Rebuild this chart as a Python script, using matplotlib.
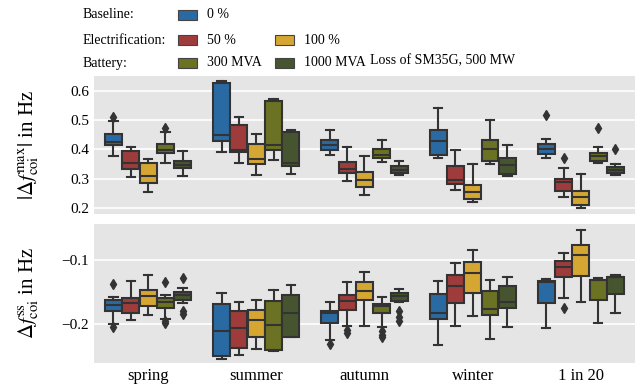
import matplotlib
matplotlib.use("Agg")
import matplotlib.pyplot as plt
from matplotlib.patches import Rectangle
import numpy as np

plt.rcParams['font.family'] = ['Liberation Serif', 'DejaVu Serif']
plt.rcParams['mathtext.fontset'] = 'stix'

seasons = ['spring', 'summer', 'autumn', 'winter', '1 in 20']
cases = ['0 %', '50 %', '100 %', '300 MVA', '1000 MVA']
colors = ['#2a6aa3', '#9e3c3b', '#d6a632', '#6b7223', '#46552f']

# box statistics per case: rows = seasons, cols = (whislo, q1, med, q3, whishi)
fmax = {
    '0 %':      [(0.378, 0.415, 0.427, 0.453, 0.497), (0.390, 0.429, 0.451, 0.626, 0.634),
                 (0.382, 0.399, 0.414, 0.432, 0.468), (0.372, 0.382, 0.430, 0.467, 0.542),
                 (0.372, 0.383, 0.402, 0.419, 0.436)],
    '50 %':     [(0.307, 0.332, 0.353, 0.393, 0.407), (0.352, 0.390, 0.399, 0.484, 0.510),
                 (0.293, 0.321, 0.334, 0.357, 0.410), (0.261, 0.281, 0.297, 0.345, 0.398),
                 (0.238, 0.257, 0.288, 0.300, 0.336)],
    '100 %':    [(0.254, 0.286, 0.309, 0.354, 0.366), (0.313, 0.351, 0.366, 0.420, 0.454),
                 (0.243, 0.273, 0.296, 0.322, 0.377), (0.220, 0.232, 0.256, 0.280, 0.351),
                 (0.198, 0.209, 0.238, 0.257, 0.317)],
    '300 MVA':  [(0.355, 0.388, 0.397, 0.420, 0.458), (0.365, 0.399, 0.415, 0.565, 0.571),
                 (0.357, 0.372, 0.382, 0.402, 0.431), (0.349, 0.361, 0.402, 0.433, 0.499),
                 (0.353, 0.360, 0.376, 0.389, 0.407)],
    '1000 MVA': [(0.310, 0.337, 0.347, 0.359, 0.393), (0.317, 0.345, 0.352, 0.459, 0.465),
                 (0.311, 0.320, 0.330, 0.344, 0.362), (0.310, 0.315, 0.347, 0.371, 0.414),
                 (0.311, 0.318, 0.330, 0.340, 0.351)],
}
fmax_fliers = {
    '0 %':      [[0.51], [], [], [], [0.518]],
    '50 %':     [[], [], [], [], [0.369]],
    '100 %':    [[], [], [], [], []],
    '300 MVA':  [[0.472], [], [], [], [0.474]],
    '1000 MVA': [[], [], [], [], [0.402]],
}

fss = {
    '0 %':      [(-0.200, -0.179, -0.170, -0.163, -0.158), (-0.254, -0.249, -0.211, -0.169, -0.152),
                 (-0.224, -0.198, -0.183, -0.180, -0.166), (-0.232, -0.192, -0.182, -0.153, -0.133),
                 (-0.205, -0.167, -0.134, -0.133, -0.130)],
    '50 %':     [(-0.194, -0.183, -0.167, -0.159, -0.133), (-0.248, -0.237, -0.206, -0.180, -0.165),
                 (-0.203, -0.177, -0.164, -0.155, -0.135), (-0.202, -0.167, -0.140, -0.124, -0.105),
                 (-0.159, -0.127, -0.111, -0.101, -0.089)],
    '100 %':    [(-0.185, -0.171, -0.156, -0.146, -0.124), (-0.238, -0.219, -0.193, -0.177, -0.162),
                 (-0.202, -0.163, -0.149, -0.134, -0.119), (-0.187, -0.151, -0.121, -0.103, -0.085),
                 (-0.165, -0.125, -0.092, -0.077, -0.053)],
    '300 MVA':  [(-0.192, -0.174, -0.166, -0.159, -0.154), (-0.242, -0.240, -0.201, -0.164, -0.147),
                 (-0.204, -0.183, -0.171, -0.168, -0.158), (-0.222, -0.185, -0.176, -0.149, -0.131),
                 (-0.198, -0.163, -0.131, -0.131, -0.128)],
    '1000 MVA': [(-0.167, -0.162, -0.154, -0.150, -0.144), (-0.220, -0.219, -0.182, -0.154, -0.139),
                 (-0.166, -0.164, -0.156, -0.152, -0.145), (-0.204, -0.174, -0.165, -0.140, -0.126),
                 (-0.183, -0.153, -0.126, -0.126, -0.124)],
}
fss_fliers = {
    '0 %':      [[-0.137, -0.204], [], [-0.230], [], []],
    '50 %':     [[], [], [-0.209, -0.214], [], [-0.174]],
    '100 %':    [[], [], [], [], []],
    '300 MVA':  [[-0.135, -0.195, -0.198], [], [-0.210, -0.216, -0.219], [], []],
    '1000 MVA': [[-0.128, -0.180, -0.184], [], [-0.180, -0.188, -0.195], [], []],
}


def draw_boxes(ax, stats, fliers):
    width = 0.8 / len(cases)
    for j, case in enumerate(cases):
        offset = -0.4 + width * (j + 0.5)
        recs = []
        for i in range(len(seasons)):
            lo, q1, med, q3, hi = stats[case][i]
            recs.append(dict(whislo=lo, q1=q1, med=med, q3=q3, whishi=hi,
                             fliers=fliers[case][i]))
        pos = np.arange(len(seasons)) + offset
        ax.bxp(recs, positions=pos, widths=width * 0.98, patch_artist=True,
               showfliers=True,
               boxprops=dict(facecolor=colors[j], edgecolor='#333333', linewidth=1.5),
               medianprops=dict(color='#333333', linewidth=1.5),
               whiskerprops=dict(color='#333333', linewidth=1.5),
               capprops=dict(color='#333333', linewidth=1.5),
               flierprops=dict(marker='d', markerfacecolor='#333333',
                               markeredgecolor='#333333', markersize=5.5))


fig = plt.figure(figsize=(6.41, 3.92), dpi=100)
ax1 = fig.add_axes([0.1466, 0.454, 0.844, 0.352])
ax2 = fig.add_axes([0.1466, 0.074, 0.844, 0.355])

draw_boxes(ax1, fmax, fmax_fliers)
draw_boxes(ax2, fss, fss_fliers)

for ax in (ax1, ax2):
    ax.set_facecolor('#e5e5e5')
    ax.set_axisbelow(True)
    ax.grid(axis='y', color='white', linewidth=1.2)
    for s in ax.spines.values():
        s.set_visible(False)
    ax.tick_params(length=0, labelsize=11)
    ax.tick_params(axis='x', labelsize=12)
    ax.set_xlim(-0.5, len(seasons) - 0.5)
    ax.set_xticks(np.arange(len(seasons)))

ax1.set_xticklabels([])
ax2.set_xticklabels(seasons)
ax1.set_ylim(0.179, 0.651)
ax1.set_yticks([0.2, 0.3, 0.4, 0.5, 0.6])
ax2.set_ylim(-0.260, -0.044)
ax2.set_yticks([-0.2, -0.1])
ax2.set_yticklabels(['\u22120.2', '\u22120.1'])
ax1.set_ylabel(r'$|\Delta f_{\rm coi}^{\rm max}|$ in Hz', fontsize=15)
ax2.set_ylabel(r'$\Delta f_{\rm coi}^{\rm ss}$ in Hz', fontsize=15)
ax1.yaxis.set_label_coords(-0.098, 0.5)
ax2.yaxis.set_label_coords(-0.098, 0.5)

# grouped legend above the panels
W, H = 641.0, 392.0
rows = [('Baseline:', [0]), ('Electrification:', [1, 2]), ('Battery:', [3, 4])]
row_y = [15, 40, 63]
col_x = [178, 275]
for (title, idx), y in zip(rows, row_y):
    fig.text(83 / W, 1 - y / H, title, fontsize=10, va='center', ha='left')
    for k, ci in enumerate(idx):
        x0 = col_x[k]
        fig.patches.append(Rectangle((x0 / W, 1 - (y + 5) / H), 19 / W, 10 / H,
                                     transform=fig.transFigure, facecolor=colors[ci],
                                     edgecolor='#444444', linewidth=0.8))
        fig.text((x0 + 29) / W, 1 - y / H, cases[ci], fontsize=10, va='center', ha='left')
fig.text(370 / W, 1 - 61 / H, 'Loss of SM35G, 500 MW', fontsize=10, va='center', ha='left')

fig.savefig('out.png', dpi=100)
